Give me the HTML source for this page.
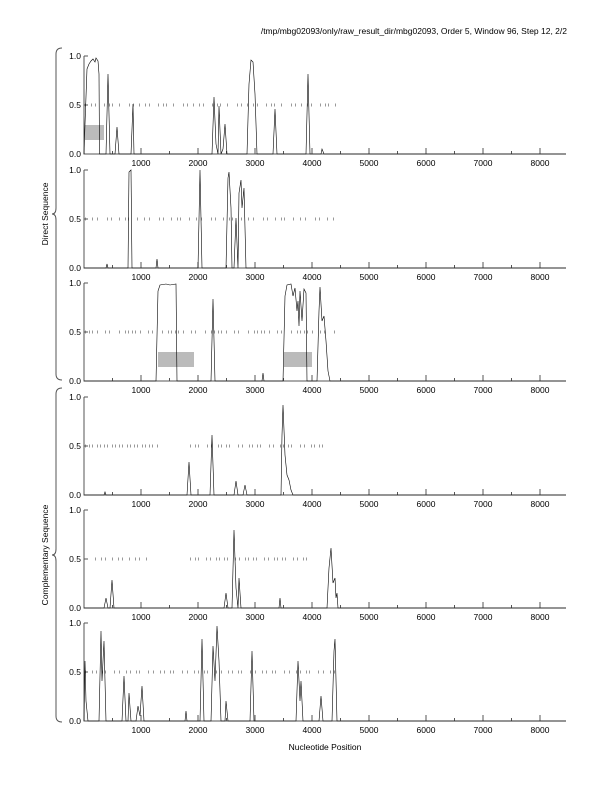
<!DOCTYPE html>
<html><head><meta charset="utf-8"><style>
html,body{margin:0;padding:0;background:#fff}
svg{display:block}
text{font-family:"Liberation Sans",sans-serif;font-size:8.5px;fill:#000}
.ax{stroke:#555;stroke-width:1;fill:none}
.pk{stroke:#000;stroke-width:0.6;fill:none}
.dash{stroke:#999;stroke-width:3;fill:none}
.box{fill:#bbb}
</style></head><body>
<svg width="612" height="792" viewBox="0 0 612 792">
<text x="567" y="34" text-anchor="end">/tmp/mbg02093/only/raw_result_dir/mbg02093, Order 5, Window 96, Step 12, 2/2</text>
<defs>
<g id="axes">
<path class="ax" d="M84,-98 V0 H566"/>
<path class="ax" d="M84,0 h4 M84,-49 h4 M84,-98 h4"/>
<path class="ax" d="M112.5,0 v-3 M141,0 v-6 M169.5,0 v-3 M198,0 v-6 M226.5,0 v-3 M255,0 v-6 M283.5,0 v-3 M312,0 v-6 M340.5,0 v-3 M369,0 v-6 M397.5,0 v-3 M426,0 v-6 M454.5,0 v-3 M483,0 v-6 M511.5,0 v-3 M540,0 v-6"/>
<text x="81" y="3" text-anchor="end">0.0</text>
<text x="81" y="-46" text-anchor="end">0.5</text>
<text x="81" y="-95" text-anchor="end">1.0</text>
<g text-anchor="middle">
<text x="141" y="12">1000</text><text x="198" y="12">2000</text><text x="255" y="12">3000</text><text x="312" y="12">4000</text><text x="369" y="12">5000</text><text x="426" y="12">6000</text><text x="483" y="12">7000</text><text x="540" y="12">8000</text>
</g>
</g>
</defs>

<g transform="translate(0,154)">
<rect class="box" x="85" y="-29" width="19" height="15"/>
<line class="dash" x1="85" y1="-49" x2="340" y2="-49" stroke-dasharray="1 5 1 3 1 8 1 4 1 2 1 6 1 9 1 3 1 5"/>
<use href="#axes"/>
<polyline class="pk" points="84,0 85,-30 87,-85 89,-90 91,-93 93,-95 95,-92 96,-96 98,-93 99,-80 99.5,0 106,0 108,-80 110,0 115,0 117,-27 119,0 131,0 133,-50 134,0 212,0 214,-57 216,-10 218,0 219,-48 221,0 223,-5 225,-30 227,0 247,0 249,-70 251,-94 253,-92 255,-60 257,0 273,0 275,-45 277,0 306,0 308,-80 310,0 321,0 322,-5 324,0 566,0"/>
</g>

<g transform="translate(0,268)">
<line class="dash" x1="85" y1="-49" x2="335" y2="-49" stroke-dasharray="1 6 1 4 1 9 1 3 1 7 1 5 1 2 1 8"/>
<use href="#axes"/>
<polyline class="pk" points="84,0 106,0 107,-4 108,0 128,0 129,-96 131,-98 132,0 156,0 157,-9 158,0 198,0 200,-98 202,0 226,0 228,-90 229,-96 231,-60 232,0 234,0 236,-50 238,0 239,-75 241,-88 242,-60 244,-80 246,0 566,0"/>
</g>

<g transform="translate(0,381)">
<rect class="box" x="158" y="-29" width="36" height="15"/>
<rect class="box" x="284" y="-29" width="28" height="15"/>
<line class="dash" x1="85" y1="-49" x2="340" y2="-49" stroke-dasharray="1 3 1 2 1 4 1 7 1 3 1 9 1 5 1 2"/>
<use href="#axes"/>
<polyline class="pk" points="84,0 156,0 158,-90 160,-96 166,-97 170,-96 176,-97 177,0 211,0 213,-82 215,0 262,0 263,-8 264,0 283,0 285,-85 287,-96 291,-97 293,-85 295,-93 297,-70 298,-80 299,-55 300,-90 302,-60 304,-92 306,-88 307,0 317,0 319,-70 320,-94 322,-60 324,-65 326,-40 328,-10 330,0 566,0"/>
</g>

<g transform="translate(0,495)">
<line class="dash" x1="85" y1="-49" x2="158" y2="-49" stroke-dasharray="1 3 1 2 1 4 1 2"/>
<line class="dash" x1="190" y1="-49" x2="330" y2="-49" stroke-dasharray="1 4 1 2 1 8 1 3 1 6 1 2"/>
<use href="#axes"/>
<polyline class="pk" points="84,0 104,0 105,-3 106,0 187,0 189,-33 191,0 210,0 212,-60 214,0 234,0 236,-14 238,0 243,0 245,-10 247,0 281,0 282,-60 283,-90 285,-40 287,-20 289,-15 291,-5 293,0 566,0"/>
</g>

<g transform="translate(0,608)">
<line class="dash" x1="95" y1="-49" x2="150" y2="-49" stroke-dasharray="1 5 1 3 1 6"/>
<line class="dash" x1="190" y1="-49" x2="310" y2="-49" stroke-dasharray="1 4 1 2 1 7 1 3 1 5 1 2"/>
<use href="#axes"/>
<polyline class="pk" points="84,0 104,0 106,-10 108,0 110,0 112,-28 114,0 224,0 226,-15 228,0 232,0 234,-78 236,-20 238,0 239,-30 241,0 279,0 280,-10 281,0 327,0 329,-40 331,-60 333,-25 335,-30 336,-10 337,-15 338,0 566,0"/>
</g>

<g transform="translate(0,721)">
<line class="dash" x1="85" y1="-49" x2="340" y2="-49" stroke-dasharray="1 6 1 3 1 5 1 2 1 8 1 4"/>
<use href="#axes"/>
<polyline class="pk" points="84,0 85,-60 86,-20 88,0 99,0 101,-90 102,-40 104,-80 106,0 122,0 124,-45 126,0 128,0 129,-28 131,0 136,0 138,-15 140,-5 142,-35 144,0 185,0 186,-10 187,0 200,0 202,-82 204,0 211,0 213,-75 215,-40 217,-95 219,-60 221,0 225,0 226,-20 228,0 250,0 252,-70 254,0 296,0 298,-60 300,-20 301,-40 303,0 319,0 321,-25 323,0 332,0 334,-70 335,-82 337,0 566,0"/>
</g>

<path class="ax" d="M62,48 Q56,48 56,54 V208 Q56,214 52,214 Q56,214 56,220 V374 Q56,380 62,380"/>
<path class="ax" d="M62,388 Q56,388 56,394 V549 Q56,555 52,555 Q56,555 56,561 V716 Q56,722 62,722"/>
<text transform="translate(48,214) rotate(-90)" text-anchor="middle">Direct Sequence</text>
<text transform="translate(48,555) rotate(-90)" text-anchor="middle">Complementary Sequence</text>
<text x="325" y="750" text-anchor="middle">Nucleotide Position</text>
</svg>
</body></html>
